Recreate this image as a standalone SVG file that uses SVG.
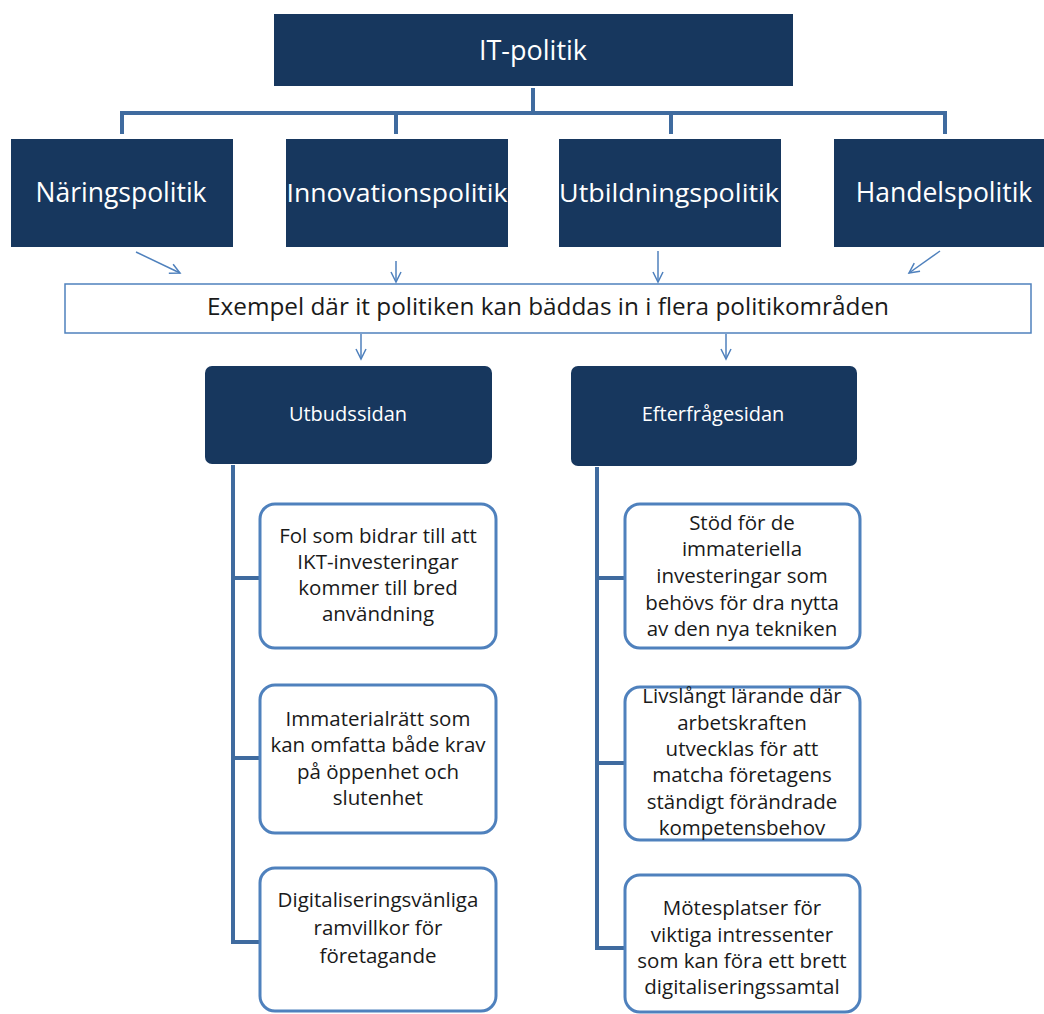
<svg xmlns="http://www.w3.org/2000/svg" width="1044" height="1014" viewBox="0 0 1044 1014">
<style>
.nav{fill:#17375e}
.wt{fill:#ffffff;font-family:"Open Sans","Liberation Sans",sans-serif;text-anchor:middle}
.bk{fill:#1a1a1a;font-family:"Open Sans","Liberation Sans",sans-serif;text-anchor:middle;font-size:20.5px}
.child{fill:#ffffff;stroke:#4f81bd;stroke-width:3}
.br{fill:none;stroke:#3f6b9f;stroke-width:4}
.ar{fill:none;stroke:#4f81bd;stroke-width:1.5;marker-end:url(#ah)}
</style>
<defs>
<marker id="ah" markerUnits="userSpaceOnUse" markerWidth="14" markerHeight="14" refX="11" refY="6" orient="auto">
<path d="M1,1 L11,6 L1,11" fill="none" stroke="#4f81bd" stroke-width="1.5"/>
</marker>
</defs>
<rect width="1044" height="1014" fill="#ffffff"/>
<g id="connectors">
<path class="br" d="M533,88 V113 M122,134 V113 H945 V134 M396,113 V134 M671,113 V134"/>
<line class="ar" x1="136" y1="252" x2="180" y2="273"/>
<line class="ar" x1="396" y1="261" x2="396" y2="282"/>
<line class="ar" x1="658" y1="251" x2="658" y2="282"/>
<line class="ar" x1="940" y1="251" x2="909" y2="273"/>
<line class="ar" x1="361" y1="334" x2="361" y2="359"/>
<line class="ar" x1="726" y1="334" x2="726" y2="359"/>
<path class="br" d="M233,465 V942 H260 M233,578 H260 M233,758 H260"/>
<path class="br" d="M597,467 V948 H625 M597,578 H625 M597,763 H625"/>
</g>
<g id="it-politik">
<rect class="nav" x="274" y="14" width="519" height="72"/>
<text class="wt" x="533" y="60" font-size="27">IT-politik</text>
</g>
<g id="naringspolitik">
<rect class="nav" x="11" y="139" width="222" height="108"/>
<text class="wt" x="121" y="202" font-size="26.5">Näringspolitik</text>
</g>
<g id="innovationspolitik">
<rect class="nav" x="286" y="139" width="222" height="108"/>
<text class="wt" x="397" y="202" font-size="26" textLength="221" lengthAdjust="spacingAndGlyphs">Innovationspolitik</text>
</g>
<g id="utbildningspolitik">
<rect class="nav" x="559" y="139" width="222" height="108"/>
<text class="wt" x="669" y="202" font-size="26" textLength="220" lengthAdjust="spacingAndGlyphs">Utbildningspolitik</text>
</g>
<g id="handelspolitik">
<rect class="nav" x="834" y="139" width="215" height="108"/>
<text class="wt" x="944" y="202" font-size="26.5">Handelspolitik</text>
</g>
<g id="exempel">
<rect x="65" y="284" width="966" height="49" fill="#ffffff" stroke="#4f81bd" stroke-width="1.5"/>
<text x="548" y="315" font-size="24" fill="#1a1a1a" font-family="Open Sans, Liberation Sans, sans-serif" text-anchor="middle" textLength="682" lengthAdjust="spacingAndGlyphs">Exempel där it politiken kan bäddas in i flera politikområden</text>
</g>
<g id="utbudssidan">
<rect class="nav" x="205" y="366" width="287" height="98" rx="7"/>
<text class="wt" x="348" y="421" font-size="20">Utbudssidan</text>
</g>
<g id="efterfragesidan">
<rect class="nav" x="571" y="366" width="286" height="100" rx="7"/>
<text class="wt" x="713" y="421" font-size="20">Efterfrågesidan</text>
</g>
<g id="fol">
<rect class="child" x="260" y="504" width="236" height="144" rx="15"/>
<text class="bk" x="378" y="543">Fol som bidrar till att</text>
<text class="bk" x="378" y="569">IKT-investeringar</text>
<text class="bk" x="378" y="595">kommer  till bred</text>
<text class="bk" x="378" y="621">användning</text>
</g>
<g id="immaterialratt">
<rect class="child" x="260" y="685" width="236" height="148" rx="15"/>
<text class="bk" x="378" y="726">Immaterialrätt som</text>
<text class="bk" x="378" y="752">kan omfatta både krav</text>
<text class="bk" x="378" y="779">på öppenhet och</text>
<text class="bk" x="378" y="805">slutenhet</text>
</g>
<g id="digitaliseringsvanliga">
<rect class="child" x="260" y="868" width="236" height="143" rx="15"/>
<text class="bk" x="378" y="907">Digitaliseringsvänliga</text>
<text class="bk" x="378" y="935">ramvillkor för</text>
<text class="bk" x="378" y="963">företagande</text>
</g>
<g id="stod">
<rect class="child" x="625" y="504" width="235" height="144" rx="15"/>
<text class="bk" x="742" y="530">Stöd för de</text>
<text class="bk" x="742" y="556">immateriella</text>
<text class="bk" x="742" y="583">investeringar som</text>
<text class="bk" x="742" y="610">behövs för dra nytta</text>
<text class="bk" x="742" y="636">av den nya tekniken</text>
</g>
<g id="livslangt">
<rect class="child" x="625" y="687" width="235" height="153" rx="15"/>
<text class="bk" x="742" y="703">Livslångt lärande där</text>
<text class="bk" x="742" y="730">arbetskraften</text>
<text class="bk" x="742" y="756">utvecklas för att</text>
<text class="bk" x="742" y="782">matcha företagens</text>
<text class="bk" x="742" y="809">ständigt förändrade</text>
<text class="bk" x="742" y="835">kompetensbehov</text>
</g>
<g id="motesplatser">
<rect class="child" x="625" y="875" width="235" height="137" rx="15"/>
<text class="bk" x="742" y="915">Mötesplatser för</text>
<text class="bk" x="742" y="942">viktiga intressenter</text>
<text class="bk" x="742" y="968">som kan föra ett brett</text>
<text class="bk" x="742" y="994">digitaliseringssamtal</text>
</g>
</svg>
